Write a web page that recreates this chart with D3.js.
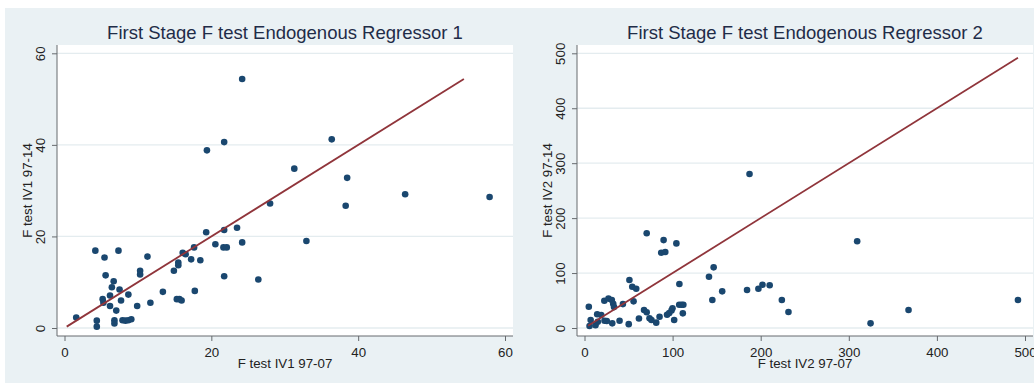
<!DOCTYPE html>
<html>
<head>
<meta charset="utf-8">
<script src="https://cdn.jsdelivr.net/npm/d3@7/dist/d3.min.js"></script>
<style>
  html, body { margin: 0; padding: 0; background: #ffffff; }
  svg { display: block; }
  text { font-family: "Liberation Sans", Arial, sans-serif; }
</style>
</head>
<body>
<svg id="chart" width="1034" height="383"></svg>
<script>
// Panel 1: first-stage F statistics, IV1 (1997-07 vs 1997-14)
const iv1Early = [1.6, 4.4, 4.4, 4.2, 5.45, 7.35, 5.6, 6.7, 6.45, 7.5, 6.2, 8.7, 5.2, 5.3, 7.7,
  6.2, 7.05, 6.8, 6.8, 7.9, 8.3, 8.7, 9.1, 9.9, 10.3, 10.3, 11.3, 11.7, 13.4, 14.9, 15.5, 15.5,
  16.1, 16.5, 17.25, 17.65, 18.5, 17.75, 15.3, 15.65, 15.95, 19.3, 20.55, 21.75, 21.65, 22.1,
  21.75, 23.5, 24.2, 26.4, 19.4, 21.75, 24.2, 36.4, 31.3, 38.5, 28.0, 38.3, 46.4, 57.9, 32.95];
const iv1Late = [2.3, 1.6, 0.3, 16.9, 15.4, 16.9, 11.5, 10.2, 8.9, 8.4, 7.1, 7.3, 6.3, 5.5, 6.0,
  4.8, 3.8, 1.7, 1.0, 1.7, 1.6, 1.7, 1.9, 4.8, 12.5, 11.7, 15.6, 5.5, 7.9, 12.5, 13.7, 14.3,
  16.4, 16.1, 15.0, 17.6, 14.8, 8.1, 6.3, 6.3, 6.0, 20.9, 18.3, 21.4, 17.6, 17.6,
  11.3, 21.9, 18.7, 10.6, 38.8, 40.6, 54.4, 41.2, 34.8, 32.8, 27.2, 26.7, 29.2, 28.6, 19.0];
const iv1Diagonal = [0.3, 54.4];
const iv1Ticks = [0, 20, 40, 60];

// Panel 2: first-stage F statistics, IV2 (1997-07 vs 1997-14)
const iv2Early = [4.9, 5.7, 7.0, 12.5, 14.4, 19, 15.1, 22.7, 25.3, 22.5, 27.2, 31, 32.6, 33.5,
  31.5, 39.8, 43.6, 50.2, 51, 54.2, 58.7, 55.7, 61.8, 67.6, 70.6, 70.6, 73.8, 76, 81.4, 85.2,
  87.1, 91.7, 89.8, 93.7, 96.2, 98.8, 99.9, 101.8, 104.3, 107.7, 107.5, 110.2, 112.2, 111.6,
  141.3, 146.6, 145.1, 156.3, 184.5, 187.3, 197.4, 202, 210.2, 224, 231.5, 309.5, 324.7,
  367.8, 492];
const iv2Late = [38.8, 3.6, 14.6, 4.9, 24.9, 23.7, 11.5, 13.3, 12.7, 49.7, 53.5, 51, 44, 38,
  8.5, 13.3, 43.5, 7, 87.4, 75.2, 71.5, 48.5, 17.3, 32.8, 28.8, 172.4, 17.6, 14.6, 9.7, 20.6,
  137, 138.3, 160, 24.2, 27.3, 32, 36, 14.6, 154, 80, 42.4, 42.4, 42.4, 26.7,
  93.4, 110.4, 51, 66.7, 69.2, 280.3, 71.5, 78.8, 77.7, 51, 29.1, 157.8, 8.5,
  32.8, 51];
const iv2Diagonal = [4, 492];
const iv2Ticks = [0, 100, 200, 300, 400, 500];

const panels = [
  { title: "First Stage F test Endogenous Regressor 1", xLabel: "F test IV1 97-07",
    yLabel: "F test IV1 97-14", xs: iv1Early, ys: iv1Late, diag: iv1Diagonal,
    ticks: iv1Ticks, offset: 0 },
  { title: "First Stage F test Endogenous Regressor 2", xLabel: "F test IV2 97-07",
    yLabel: "F test IV2 97-14", xs: iv2Early, ys: iv2Late, diag: iv2Diagonal,
    ticks: iv2Ticks, offset: 520 }
];

const svg = d3.select("#chart");
const BG = "#eaf1f4";
const GRID = "#e4ecef";
const AXIS = "#666a6e";
const NAVY = "#1a476f";
const MAROON = "#90353b";
const TEXT = "#1f2c48";

// shared graph-region background
svg.append("rect").attr("x", 5).attr("y", 8).attr("width", 1029).attr("height", 375)
  .attr("fill", BG);

panels.forEach(p => {
  const g = svg.append("g").attr("transform", `translate(${p.offset},0)`);
  const plotL = 57, plotR = 513, plotT = 45, plotB = 336;
  const lo = p.ticks[0], hi = p.ticks[p.ticks.length - 1];

  const x = d3.scaleLinear().domain([lo, hi]).range([64.5, 505]);
  const y = d3.scaleLinear().domain([lo, hi]).range([328, 53.3]);

  // plot region
  g.append("rect").attr("x", plotL).attr("y", plotT)
    .attr("width", plotR - plotL).attr("height", plotB - plotT).attr("fill", "#ffffff");

  // horizontal grid lines
  g.append("g").selectAll("line").data(p.ticks).join("line")
    .attr("x1", plotL).attr("x2", plotR)
    .attr("y1", d => y(d)).attr("y2", d => y(d))
    .attr("stroke", GRID).attr("stroke-width", 1.3);

  // y axis with rotated tick labels
  const yAxis = g.append("g").attr("transform", `translate(${plotL},0)`)
    .call(d3.axisLeft(y).tickValues(p.ticks).tickSize(5).tickFormat(d3.format("d")));
  yAxis.select(".domain").attr("d", `M0,${plotT}V${plotB}`).attr("stroke", AXIS);
  yAxis.selectAll(".tick line").attr("stroke", AXIS);
  yAxis.selectAll(".tick text")
    .attr("transform", "rotate(-90)")
    .attr("x", 0).attr("y", -12).attr("dy", 0)
    .style("text-anchor", "middle")
    .style("font-size", "13.3px")
    .attr("fill", "#222222");

  // x axis
  const xAxis = g.append("g").attr("transform", `translate(0,${plotB})`)
    .call(d3.axisBottom(x).tickValues(p.ticks).tickSize(5).tickFormat(d3.format("d")));
  xAxis.select(".domain").attr("d", `M${plotL},0H${plotR}`).attr("stroke", AXIS);
  xAxis.selectAll(".tick line").attr("stroke", AXIS);
  xAxis.selectAll(".tick text")
    .attr("y", 21.3).attr("dy", 0)
    .style("font-size", "13.3px")
    .attr("fill", "#222222");
  svg.selectAll(".tick text").style("font-family", '"Liberation Sans", Arial, sans-serif');

  // points
  g.append("g").selectAll("circle").data(p.xs.map((v, i) => [v, p.ys[i]])).join("circle")
    .attr("cx", d => x(d[0])).attr("cy", d => y(d[1])).attr("r", 3.3)
    .attr("fill", NAVY);

  // 45-degree reference line
  g.append("line")
    .attr("x1", x(p.diag[0])).attr("y1", y(p.diag[0]))
    .attr("x2", x(p.diag[1])).attr("y2", y(p.diag[1]))
    .attr("stroke", MAROON).attr("stroke-width", 1.8);

  // titles
  const cx = (plotL + plotR) / 2;
  g.append("text").attr("x", cx).attr("y", 39).attr("text-anchor", "middle")
    .style("font-size", "18.5px").attr("fill", TEXT).text(p.title);
  g.append("text").attr("x", cx).attr("y", 368.3).attr("text-anchor", "middle")
    .style("font-size", "13.3px").attr("fill", "#222222").text(p.xLabel);
  g.append("text").attr("transform", `translate(32,${(plotT + plotB) / 2}) rotate(-90)`)
    .attr("text-anchor", "middle")
    .style("font-size", "13.3px").attr("fill", "#222222").text(p.yLabel);
});
</script>
</body>
</html>
